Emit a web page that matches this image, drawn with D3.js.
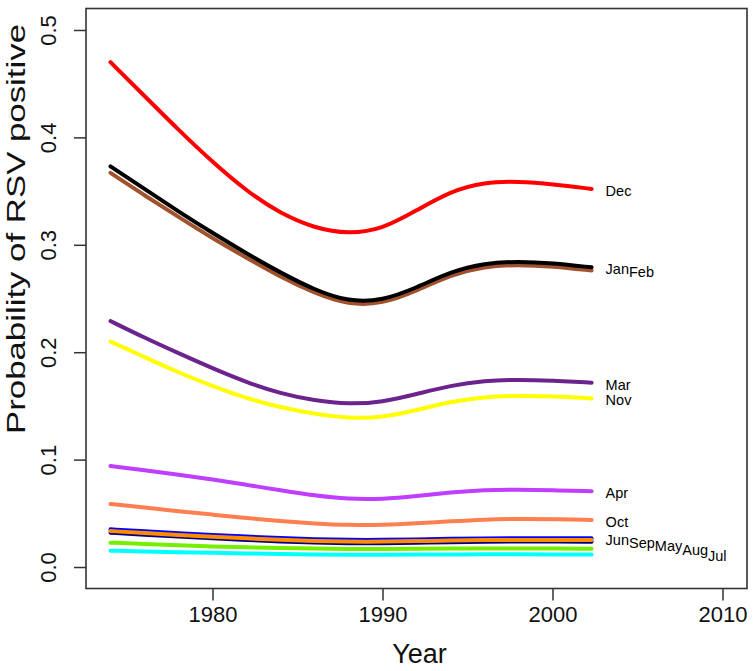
<!DOCTYPE html>
<html>
<head>
<meta charset="utf-8">
<script src="https://cdn.jsdelivr.net/npm/d3@7/dist/d3.min.js"></script>
<style>
  html, body { margin: 0; padding: 0; background: #ffffff; }
  svg { display: block; font-family: "Liberation Sans", Arial, Helvetica, sans-serif; }
</style>
</head>
<body>
<svg id="chart" width="755" height="671"></svg>
<script>
// ---- data ----
const years = [1974, 1976, 1978, 1980, 1982, 1984, 1986, 1988, 1990, 1992, 1994, 1996, 1998, 2000, 2002.3];

const months = ["Jan", "Feb", "Mar", "Apr", "May", "Jun", "Jul", "Aug", "Sep", "Oct", "Nov", "Dec"];

const Jan = [0.373, 0.352, 0.331, 0.311, 0.292, 0.274, 0.258, 0.247, 0.248, 0.260, 0.275, 0.283, 0.2845, 0.283, 0.279];
const Feb = [0.367, 0.346, 0.326, 0.306, 0.288, 0.270, 0.255, 0.244, 0.245, 0.257, 0.272, 0.280, 0.2815, 0.280, 0.276];
const Mar = [0.229, 0.2135, 0.199, 0.185, 0.172, 0.1615, 0.155, 0.1515, 0.1535, 0.161, 0.169, 0.1735, 0.1745, 0.1735, 0.1716];
const Apr = [0.094, 0.090, 0.086, 0.0815, 0.0765, 0.0715, 0.0665, 0.0632, 0.0632, 0.066, 0.0695, 0.0718, 0.0722, 0.0715, 0.0705];
const May = [0.0335, 0.0316, 0.0298, 0.0282, 0.0267, 0.0253, 0.0242, 0.0236, 0.0236, 0.0241, 0.0247, 0.0251, 0.0253, 0.0252, 0.0251];
const Jun = [0.0351, 0.0332, 0.0314, 0.0298, 0.0283, 0.0269, 0.0258, 0.0252, 0.0252, 0.0257, 0.0263, 0.0267, 0.0269, 0.0268, 0.0267];
const Jul = [0.0152, 0.0145, 0.0138, 0.0132, 0.0126, 0.0121, 0.0117, 0.0115, 0.0115, 0.0116, 0.0117, 0.0118, 0.0118, 0.0117, 0.0116];
const Aug = [0.0227, 0.0214, 0.0202, 0.0192, 0.0183, 0.0176, 0.0171, 0.0168, 0.0168, 0.0170, 0.0172, 0.0173, 0.0173, 0.0172, 0.0171];
const Sep = [0.0320, 0.0301, 0.0283, 0.0267, 0.0252, 0.0238, 0.0227, 0.0221, 0.0221, 0.0226, 0.0232, 0.0236, 0.0238, 0.0237, 0.0236];
const Oct = [0.0587, 0.0553, 0.052, 0.0488, 0.0456, 0.0427, 0.0405, 0.0390, 0.0390, 0.0406, 0.0426, 0.0443, 0.0449, 0.0446, 0.0438];
const Nov = [0.210, 0.1955, 0.181, 0.1685, 0.157, 0.1485, 0.1425, 0.1385, 0.139, 0.146, 0.154, 0.1585, 0.1595, 0.159, 0.157];
const Dec = [0.470, 0.4385, 0.407, 0.377, 0.350, 0.329, 0.3155, 0.310, 0.3145, 0.332, 0.350, 0.3585, 0.359, 0.3565, 0.352];

const xTicks = [1980, 1990, 2000, 2010];
const yTicks = [0.0, 0.1, 0.2, 0.3, 0.4, 0.5];
const xTitle = "Year";
const yTitle = "Probability of RSV positive";

// order in which the end labels are written
const labelOrder = ["Dec", "Jan", "Feb", "Mar", "Nov", "Apr", "Oct", "Jun", "Sep", "May", "Aug", "Jul"];
// order in which the lines are drawn
const drawOrder = ["Dec", "Feb", "Jan", "Mar", "Nov", "Apr", "Oct", "Jun", "Sep", "May", "Aug", "Jul"];

// ---- styles ----
const colors = {
  Jan: "#000000", Feb: "#A0522D", Mar: "#6B238E", Apr: "#BF3EFF",
  May: "#FF8C00", Jun: "#0000FF", Jul: "#00FFFF", Aug: "#76EE00",
  Sep: "#000080", Oct: "#FF7F50", Nov: "#FFFF00", Dec: "#FF0000"
};
const seriesData = { Jan, Feb, Mar, Apr, May, Jun, Jul, Aug, Sep, Oct, Nov, Dec };

// ---- layout ----
const padL = 86, padR = 747, padT = 8.5, padB = 588.5;

const x = d3.scaleLinear().domain([1972.56, 2011.44]).range([padL, padR]);
const y = d3.scaleLinear().domain([-0.02, 0.52]).range([padB, padT]);

const svg = d3.select("#chart");

// lines
const line = d3.line()
  .x((d, i) => x(years[i]))
  .y(d => y(d))
  .curve(d3.curveBasis);

const g = svg.append("g");
drawOrder.forEach(m => {
  g.append("path")
    .attr("d", line(seriesData[m]))
    .attr("fill", "none")
    .attr("stroke", colors[m])
    .attr("stroke-width", 4)
    .attr("stroke-linecap", "round")
    .attr("stroke-linejoin", "round");
});

// end labels
const xEnd = x(years[years.length - 1]);
let prev = null;
const labelG = svg.append("g")
  .attr("font-size", "14.5px")
  .attr("fill", "#000");
labelOrder.forEach(m => {
  const vals = seriesData[m];
  const yv = y(vals[vals.length - 1]);
  let lx, ly;
  if (prev && Math.abs(yv - prev.y) < 12) {
    lx = prev.x + prev.w;
    ly = Math.max(yv, prev.y + 3);
  } else {
    lx = xEnd + 14;
    ly = yv;
  }
  const t = labelG.append("text")
    .attr("x", lx)
    .attr("y", ly + 6.8)
    .text(m);
  const w = t.node().getComputedTextLength();
  prev = { x: lx, y: ly, w: w };
});

// x axis
const xAxis = d3.axisBottom(x).tickValues(xTicks).tickFormat(d3.format("d"))
  .tickSize(12).tickPadding(6);
const gx = svg.append("g").attr("transform", `translate(0,${padB})`).call(xAxis);
gx.select(".domain").remove();
gx.selectAll(".tick line").attr("stroke", "#333").attr("stroke-width", 1.5);
gx.selectAll(".tick text").attr("font-size", "22px").attr("fill", "#111")
  .attr("font-family", "Liberation Sans, Arial, sans-serif");

// y axis
const yAxis = d3.axisLeft(y).tickValues(yTicks).tickFormat(d3.format(".1f"))
  .tickSize(12);
const gy = svg.append("g").attr("transform", `translate(${padL},0)`).call(yAxis);
gy.select(".domain").remove();
gy.selectAll(".tick line").attr("stroke", "#333").attr("stroke-width", 1.5);
gy.selectAll(".tick text")
  .attr("font-size", "22px").attr("fill", "#111")
  .attr("font-family", "Liberation Sans, Arial, sans-serif")
  .attr("x", null).attr("dy", null)
  .attr("text-anchor", "middle")
  .attr("transform", "translate(-30,0) rotate(-90)");

// box
svg.append("rect")
  .attr("x", padL).attr("y", padT)
  .attr("width", padR - padL).attr("height", padB - padT)
  .attr("fill", "none").attr("stroke", "#333").attr("stroke-width", 1.6);

// titles
svg.append("text")
  .attr("x", (padL + padR) / 2 + 3).attr("y", 663)
  .attr("text-anchor", "middle")
  .attr("font-size", "27px").attr("fill", "#111")
  .text(xTitle);

svg.append("text")
  .attr("transform", `translate(25,229) rotate(-90)`)
  .attr("text-anchor", "middle")
  .attr("font-size", "26px").attr("fill", "#111")
  .attr("textLength", 410)
  .attr("lengthAdjust", "spacingAndGlyphs")
  .text(yTitle);
</script>
</body>
</html>
